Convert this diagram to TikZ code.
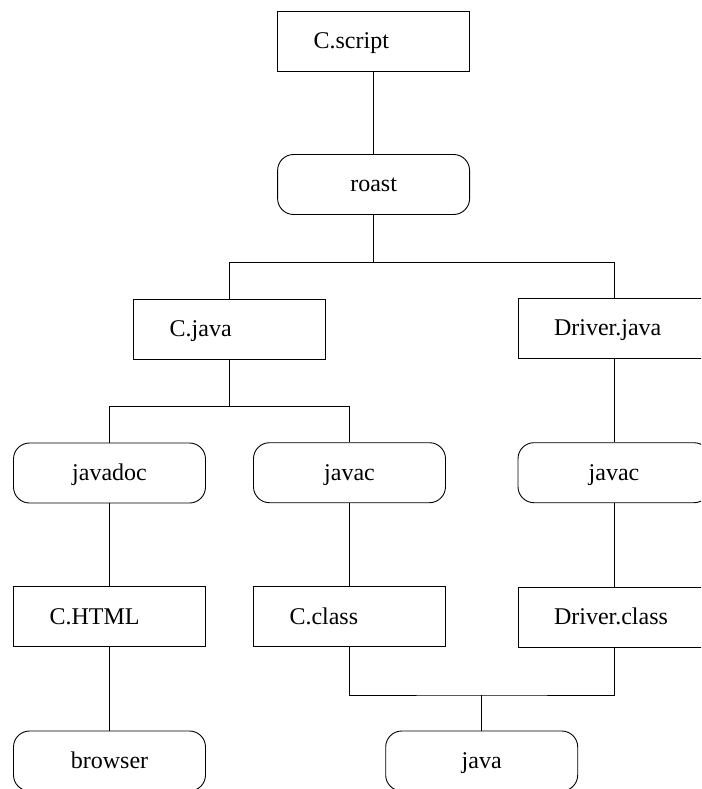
\documentclass[tikz,border=0pt]{standalone}
\usepackage{fontspec}
\setmainfont{Liberation Serif}
\begin{document}
\begin{tikzpicture}[x=1pt,y=-1pt,
  filebox/.style={draw, line width=0.9pt, rectangle, minimum height=60pt, text width=120pt, align=left, inner xsep=36pt, inner ysep=0pt, text height=19.6pt, text depth=5pt, font=\fontsize{24}{28}\selectfont},
  toolbox/.style={draw, line width=0.9pt, rectangle, rounded corners=16pt, minimum width=192pt, minimum height=60pt, inner sep=0pt, text height=19.6pt, text depth=5pt, font=\fontsize{24}{28}\selectfont},
  link/.style={draw, line width=0.9pt}]
\clip (0,0) rectangle (701,789);
\node[filebox] (cscript) at (373.6,41) {C.script};
\node[toolbox] (roast) at (373.6,184.5) {roast};
\node[filebox] (cjava) at (229.7,329) {C.java};
\node[filebox] (driverjava) at (614,328.5) {Driver.java};
\node[toolbox] (javadoc) at (109.5,473) {javadoc};
\node[toolbox] (javacA) at (349.5,472.7) {javac};
\node[toolbox] (javacB) at (614,472.7) {javac};
\node[filebox] (chtml) at (109.5,616.7) {C.HTML};
\node[filebox] (cclass) at (349.5,616.7) {C.class};
\node[filebox] (driverclass) at (614,617) {Driver.class};
\node[toolbox] (browser) at (109.5,761) {browser};
\node[toolbox] (java) at (481.7,761) {java};
\coordinate (b1) at (373.6,262.7);
\coordinate (b2) at (229.7,406.7);
\coordinate (b3) at (481.7,695);
\path[link] (cscript) -- (roast);
\path[link] (roast) -- (b1);
\path[link] (cjava.north) |- (b1) -| (driverjava.north);
\path[link] (cjava) -- (b2);
\path[link] (javadoc.north) |- (b2) -| (javacA.north);
\path[link] (javadoc) -- (chtml);
\path[link] (chtml) -- (browser);
\path[link] (javacA) -- (cclass);
\path[link] (driverjava) -- (javacB);
\path[link] (javacB) -- (driverclass);
\path[link] (cclass.south) |- (b3) -| (driverclass.south);
\path[link] (java) -- (b3);
\end{tikzpicture}
\end{document}
